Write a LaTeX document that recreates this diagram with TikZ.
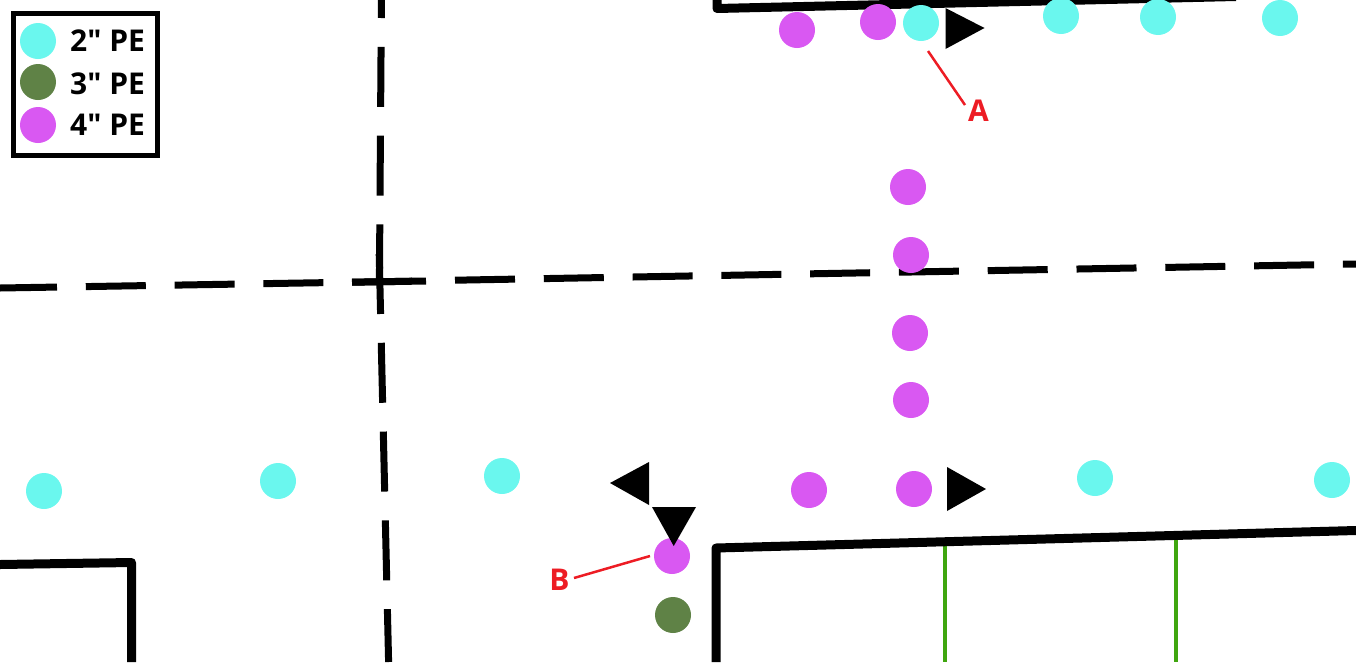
\documentclass[tikz,border=0pt]{standalone}
\usepackage{fontspec}
\setmainfont{Open Sans}
\newfontfamily\legendfont{Open Sans}
\definecolor{pecyan}{HTML}{6AF7EE}
\definecolor{peolive}{HTML}{5F8246}
\definecolor{pepurple}{HTML}{D958F2}
\definecolor{leadred}{HTML}{ED1C24}
\definecolor{lateral}{HTML}{3FA60F}
\tikzset{
  pipe/.style={circle,minimum size=36pt,inner sep=0pt,outer sep=0pt,draw=none},
  twoin/.style={pipe,fill=pecyan},
  threein/.style={pipe,fill=peolive},
  fourin/.style={pipe,fill=pepurple},
  centerline/.style={line width=7pt,black,dash pattern=on 60pt off 28.8pt},
  wall/.style={line width=9pt,black,line join=round},
  service/.style={line width=4pt,lateral},
  leader/.style={line width=2.5pt,leadred},
  legendtext/.style={font=\legendfont\fontsize{30}{30}\selectfont\bfseries,anchor=base west,inner sep=0pt},
  calloutlabel/.style={font=\fontsize{30}{30}\selectfont\bfseries,text=leadred,inner sep=0pt},
  flow/.style={fill=black,draw=none}
}
\begin{document}
\begin{tikzpicture}[x=1pt,y=-1pt]
\useasboundingbox (0,0) rectangle (1356,662);
\begin{scope}
\clip (0,0) rectangle (1356,662);
% centre lines
\draw[centerline,dash phase=3pt] (0,288) -- (412,281.2);
\draw[line width=7pt] (352,282.2) -- (426,281);
\draw[centerline] (455,280.2) -- (1356,264);
\draw[centerline,dash phase=42pt] (381.4,0) -- (379.3,296);
\draw[centerline] (379.2,254) -- (388.6,662);
% services
\draw[service] (945,544) -- (945,662);
\draw[service] (1176,538) -- (1176,662);
% walls
\draw[wall] (717,0) -- (717,8.5) -- (1236,-3.5);
\draw[wall] (716,662) -- (716,548) -- (1356,530.5);
\draw[wall] (0,564.5) -- (131.5,562.5) -- (131.5,662);
% pipes
\node[fourin] (p1) at (797,30) {};
\node[fourin] (p2) at (878,22) {};
\node[twoin] (c1) at (921,23) {};
\node[twoin] (c2) at (1061,16) {};
\node[twoin] (c3) at (1158,17) {};
\node[twoin] (c4) at (1280,18) {};
\node[fourin] (p3) at (908,187) {};
\node[fourin] (p4) at (911,255) {};
\node[fourin] (p5) at (910,333) {};
\node[fourin] (p6) at (911,400) {};
\node[fourin] (p7) at (809,490) {};
\node[fourin] (p8) at (914,489) {};
\node[fourin] (p9) at (672,556) {};
\node[threein] (g1) at (673,615) {};
\node[twoin] (c5) at (44,491) {};
\node[twoin] (c6) at (278,481) {};
\node[twoin] (c7) at (502,476) {};
\node[twoin] (c8) at (1095,478) {};
\node[twoin] (c9) at (1332,480) {};
% flow arrows
\fill[flow] (945.5,8) -- (984.5,28) -- (945.5,49) -- cycle;
\fill[flow] (649,462) -- (610,483) -- (649,505) -- cycle;
\fill[flow] (652,507) -- (696,507) -- (673.7,546) -- cycle;
\fill[flow] (947,467) -- (986,489) -- (947,511) -- cycle;
\end{scope}
% callouts
\node[calloutlabel] (la) at (978.5,110.5) {A};
\node[calloutlabel] (lb) at (559.5,580) {B};
\coordinate (aend) at (928,51);
\coordinate (astart) at (965,105);
\coordinate (bend) at (650,556);
\coordinate (bstart) at (574,578);
\draw[leader] (astart) -- (aend);
\draw[leader] (bstart) -- (bend);
% legend
\node[draw=black,line width=5pt,fill=white,minimum width=144pt,minimum height=142pt,inner sep=0pt,outer sep=0pt] (legend) at (85.5,84.5) {};
\node[twoin] (k2) at (38,41) {};
\node[threein] (k3) at (38,82) {};
\node[fourin] (k4) at (38,125) {};
\node[legendtext] (t2) at (70,51.7) {2" PE};
\node[legendtext] (t3) at (70,94) {3" PE};
\node[legendtext] (t4) at (70,135.7) {4" PE};
\end{tikzpicture}
\end{document}
